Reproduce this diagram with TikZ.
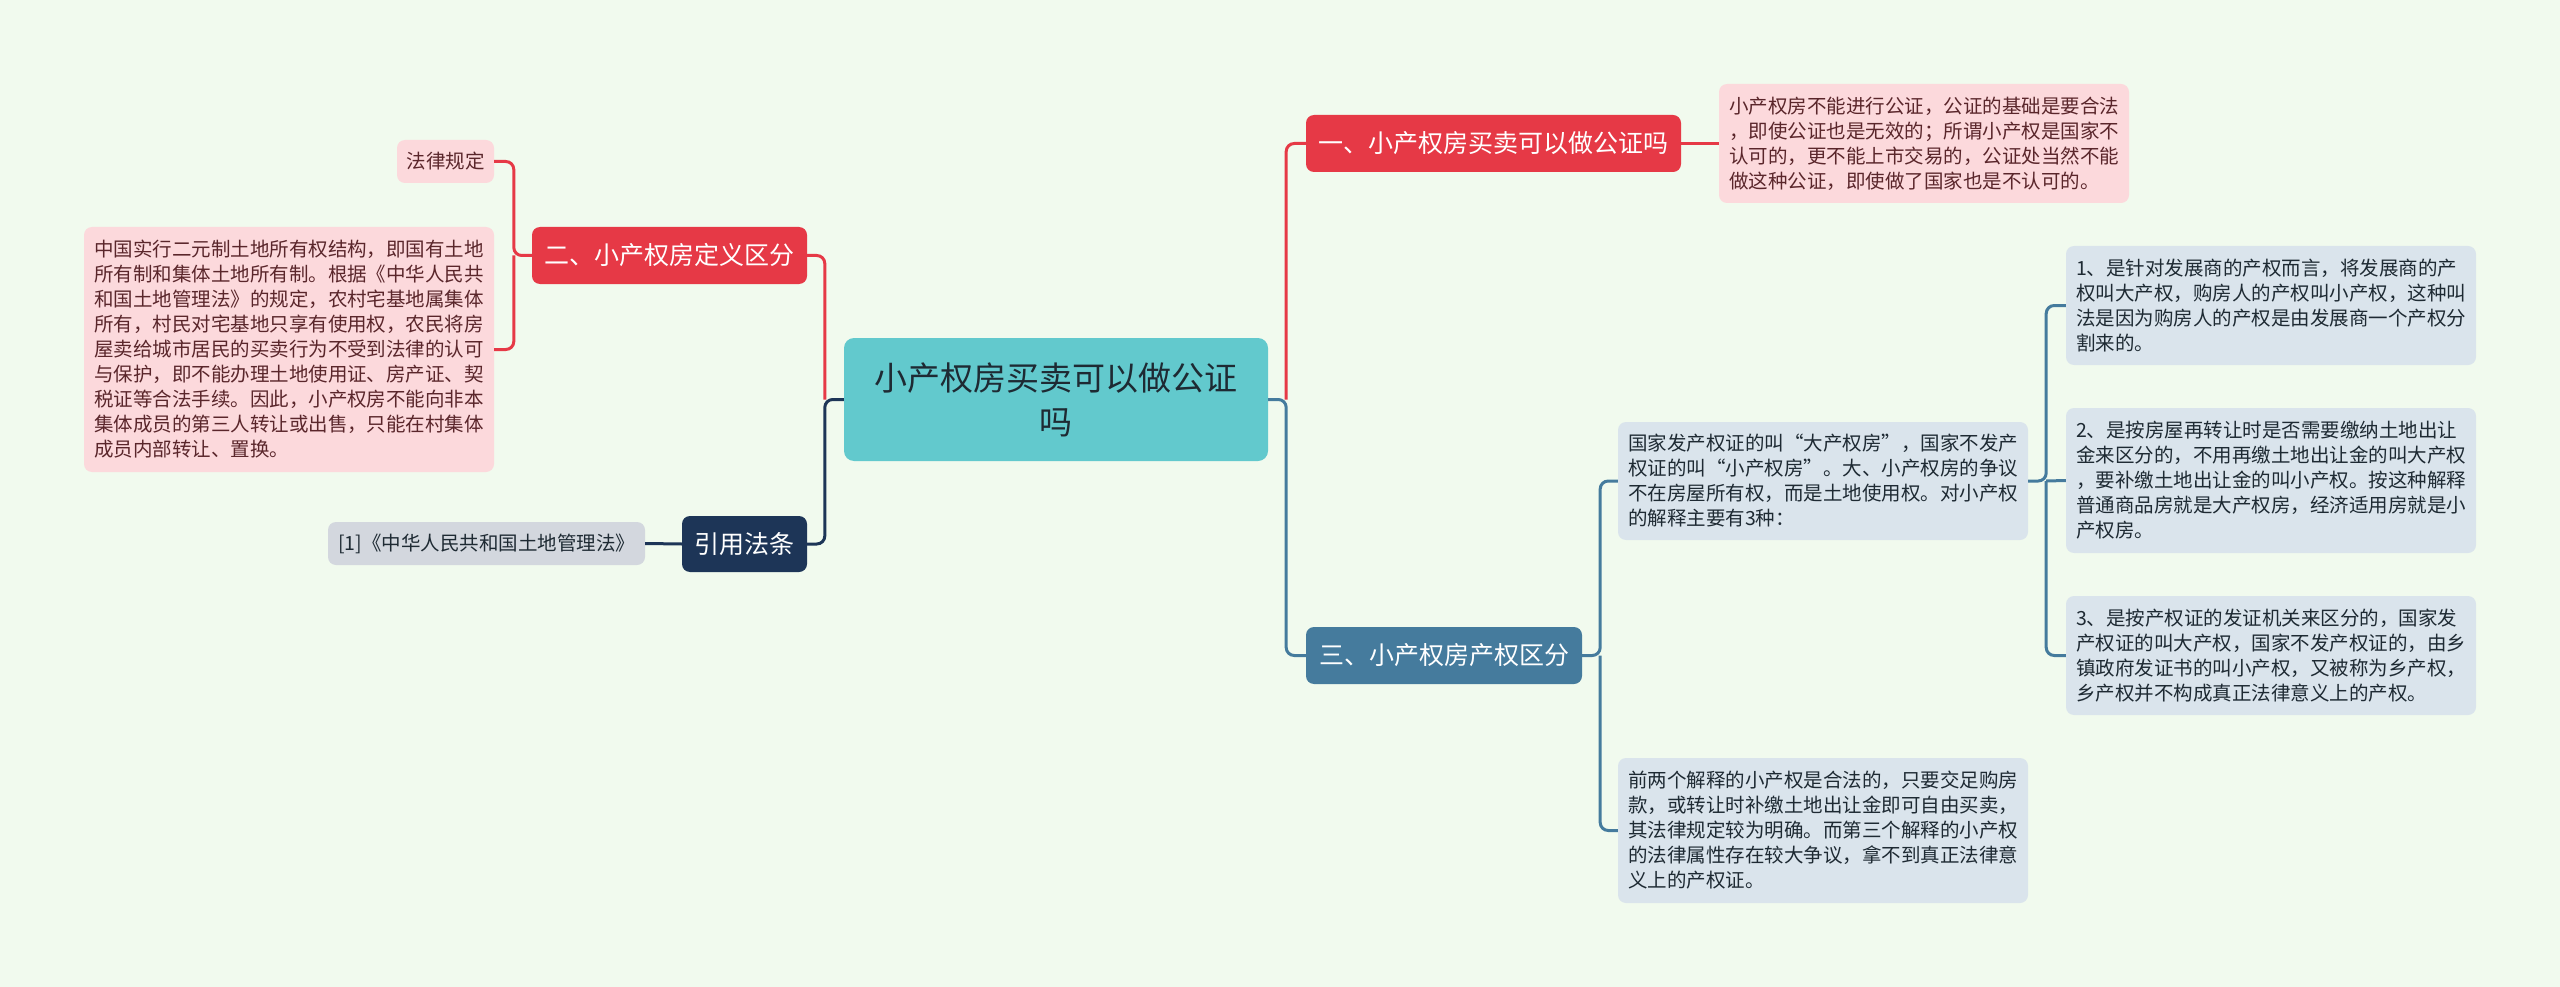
\documentclass[tikz,border=0pt]{standalone}
\usepackage{fontspec}
\setmainfont{Noto Sans CJK SC}
\definecolor{bg}{HTML}{F1FAEE}
\definecolor{redn}{HTML}{E63946}
\definecolor{navyn}{HTML}{1D3557}
\definecolor{steeln}{HTML}{457B9D}
\definecolor{tealn}{HTML}{62C9CD}
\definecolor{pinkbox}{HTML}{FCD9DC}
\definecolor{bluebox}{HTML}{DAE4EC}
\definecolor{graybox}{HTML}{D3D7DE}
\definecolor{pinktext}{HTML}{5A262B}
\definecolor{darktext}{HTML}{1E2A33}
\begin{document}
\begin{tikzpicture}[x=1pt,y=-1pt,
  topic/.style={rounded corners=8pt, inner sep=0pt, text=white, font=\fontsize{25}{30}\selectfont},
  leaf/.style={rounded corners=8pt, inner sep=0pt, align=left, font=\fontsize{19.5}{25}\selectfont},
  pinkleaf/.style={leaf, fill=pinkbox, text=pinktext},
  blueleaf/.style={leaf, fill=bluebox, text=darktext},
  conn/.style={line width=3pt, rounded corners=8pt}
]
\useasboundingbox[fill=bg] (0,0) rectangle (2560,987);

% central node
\node[rounded corners=10pt, fill=tealn, text=darktext, inner sep=0pt, align=center,
  minimum width=424pt, minimum height=123pt, font=\fontsize{33}{44}\selectfont]
  (center) at (1056,399.5) {小产权房买卖可以做公证\\吗};

% topics
\node[topic, fill=redn, minimum width=375pt, minimum height=57pt] (n1) at (1493.5,143.5) {一、小产权房买卖可以做公证吗};
\node[topic, fill=redn, minimum width=275pt, minimum height=57pt] (n2) at (669.5,255.5) {二、小产权房定义区分};
\node[topic, fill=navyn, minimum width=125pt, minimum height=56pt] (n4) at (744.5,544) {引用法条};
\node[topic, fill=steeln, minimum width=276pt, minimum height=57pt] (n3) at (1444,655.5) {三、小产权房产权区分};

% leaves
\node[pinkleaf, minimum width=410pt, minimum height=119pt] (t1) at (1924,143.5)
{小产权房不能进行公证，公证的基础是要合法\\，即使公证也是无效的；所谓小产权是国家不\\认可的，更不能上市交易的，公证处当然不能\\做这种公证，即使做了国家也是不认可的。};

\node[pinkleaf, minimum width=97pt, minimum height=43pt] (law) at (445.5,161.5) {法律规定};

\node[pinkleaf, minimum width=410pt, minimum height=245pt] (t2) at (289,349.5)
{中国实行二元制土地所有权结构，即国有土地\\所有制和集体土地所有制。根据《中华人民共\\和国土地管理法》的规定，农村宅基地属集体\\所有，村民对宅基地只享有使用权，农民将房\\屋卖给城市居民的买卖行为不受到法律的认可\\与保护，即不能办理土地使用证、房产证、契\\税证等合法手续。因此，小产权房不能向非本\\集体成员的第三人转让或出售，只能在村集体\\成员内部转让、置换。};

\node[leaf, fill=graybox, text=darktext, minimum width=317pt, minimum height=43pt] (ref) at (486.5,543.5) {[1]《中华人民共和国土地管理法》};

\node[blueleaf, minimum width=410pt, minimum height=118pt] (tA) at (1823,481)
{国家发产权证的叫“大产权房”，国家不发产\\权证的叫“小产权房”。大、小产权房的争议\\不在房屋所有权，而是土地使用权。对小产权\\的解释主要有3种：};

\node[blueleaf, minimum width=410pt, minimum height=145pt] (tB) at (1823,830.5)
{前两个解释的小产权是合法的，只要交足购房\\款，或转让时补缴土地出让金即可自由买卖，\\其法律规定较为明确。而第三个解释的小产权\\的法律属性存在较大争议，拿不到真正法律意\\义上的产权证。};

\node[blueleaf, minimum width=410pt, minimum height=119pt] (b1) at (2271,305.5)
{1、是针对发展商的产权而言，将发展商的产\\权叫大产权，购房人的产权叫小产权，这种叫\\法是因为购房人的产权是由发展商一个产权分\\割来的。};

\node[blueleaf, minimum width=410pt, minimum height=145pt] (b2) at (2271,480.5)
{2、是按房屋再转让时是否需要缴纳土地出让\\金来区分的，不用再缴土地出让金的叫大产权\\，要补缴土地出让金的叫小产权。按这种解释\\普通商品房就是大产权房，经济适用房就是小\\产权房。};

\node[blueleaf, minimum width=410pt, minimum height=119pt] (b3) at (2271,655.5)
{3、是按产权证的发证机关来区分的，国家发\\产权证的叫大产权，国家不发产权证的，由乡\\镇政府发证书的叫小产权，又被称为乡产权，\\乡产权并不构成真正法律意义上的产权。};

% connectors from center
\draw[conn, navyn] (center.west) -- ++(-19,0) coordinate (cl) |- (n4.east);
\draw[conn, redn] (cl) |- (n2.east);
\draw[conn, steeln] (center.east) -- ++(18,0) coordinate (cr) |- (n3.west);
\draw[conn, redn] (cr) |- (n1.west);

% topic 1
\draw[conn, redn] (n1.east) -- (t1.west);
% topic 2
\draw[conn, redn] (n2.west) -- ++(-18,0) coordinate (c2) |- (law.east);
\draw[conn, redn] (c2) |- (t2.east);
% topic 4
\draw[conn, navyn] (n4.west) -- (ref.east);
% topic 3
\draw[conn, steeln] (n3.east) -- ++(18,0) coordinate (c3) |- (tA.west);
\draw[conn, steeln] (c3) |- (tB.west);
\draw[conn, steeln] (tA.east) -- ++(18,0) coordinate (c4) |- (b1.west);
\draw[conn, steeln] (c4) -- (b2.west);
\draw[conn, steeln] (c4) |- (b3.west);
\end{tikzpicture}
\end{document}
